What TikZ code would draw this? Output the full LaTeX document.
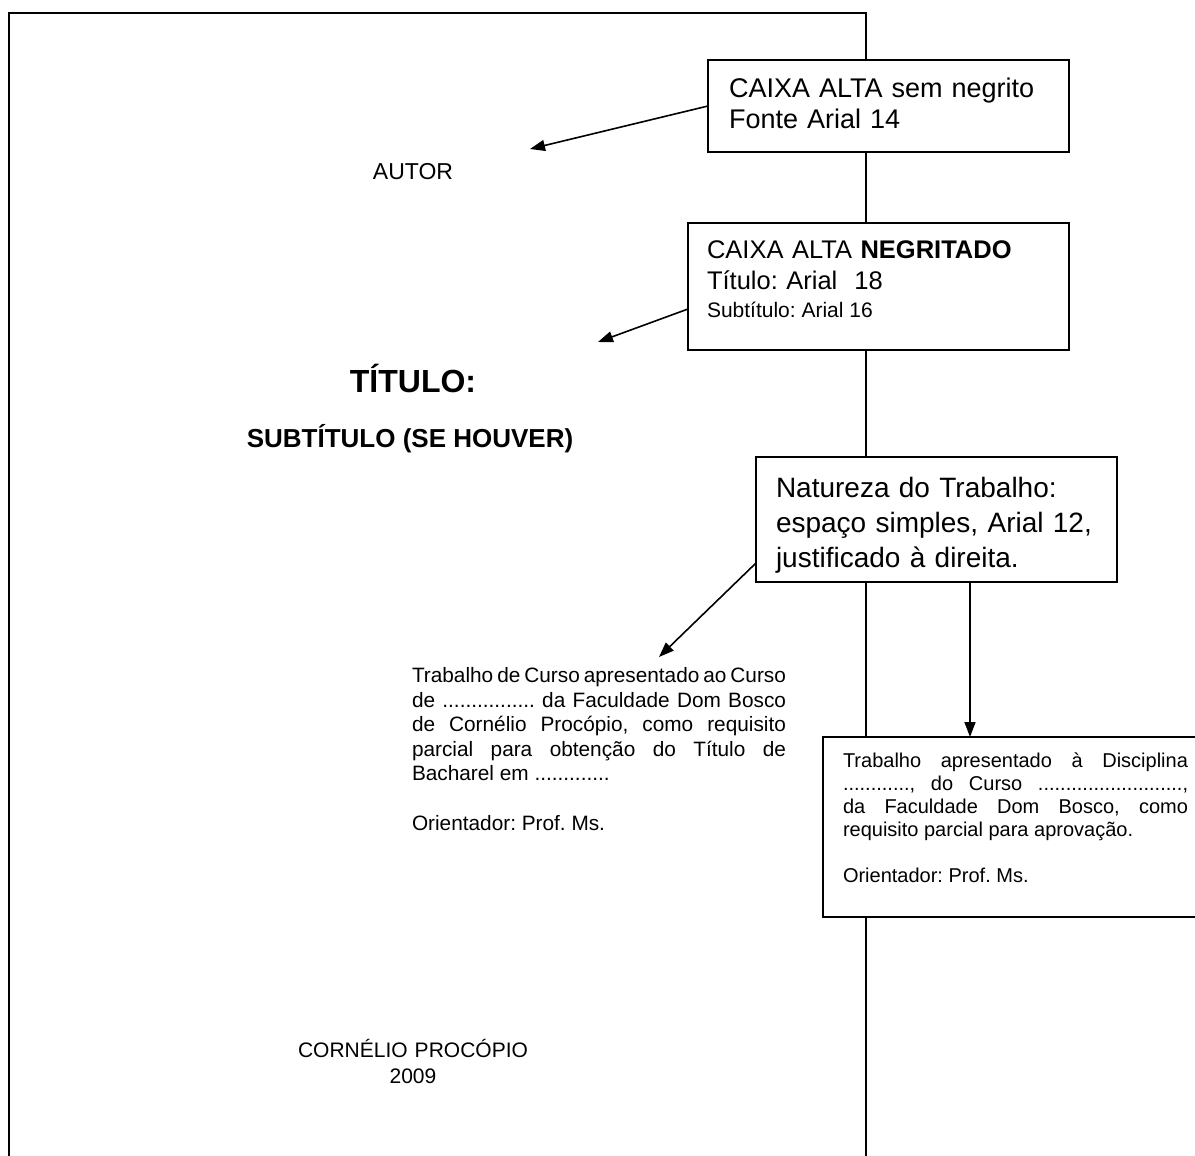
\documentclass[tikz,border=0pt]{standalone}
\usepackage{fontspec}
\setmainfont{Liberation Sans}
\usetikzlibrary{arrows.meta}
\tolerance=9999
\begin{document}
\frenchspacing
\begin{tikzpicture}[x=1pt,y=-1pt,
  frame/.style={line width=1.6pt},
  box/.style={draw, line width=1.6pt, fill=white, inner sep=0pt, outer sep=0pt, anchor=north west},
  arr/.style={line width=1.6pt, -{Triangle[length=15pt,width=11pt]}},
  txt/.style={inner sep=0pt, outer sep=0pt},
]
\useasboundingbox (0,0) rectangle (1195,1156);
\clip (0,0) rectangle (1195,1156);
% page frame
\draw[frame] (9,1170) -- (9,13) -- (866,13) -- (866,1170);
% boxes
\node[box, minimum width=361pt, minimum height=92pt] (b1) at (708,60) {};
\node[box, minimum width=381pt, minimum height=127pt] (b2) at (688,223) {};
\node[box, minimum width=361pt, minimum height=125pt] (b3) at (756,457) {};
\node[box, minimum width=420pt, minimum height=180pt] (b4) at (823,737) {};
% box texts
\node[txt, anchor=base west, text width=340pt, align=left, font=\fontsize{27}{31.5}\selectfont] (t1) at (729,97) {CAIXA ALTA sem negrito\\Fonte Arial 14};
\node[txt, anchor=base west, text width=360pt, align=left, font=\fontsize{25.5}{31}\selectfont] (t2) at (707,258) {CAIXA ALTA \textbf{NEGRITADO}\\Título: Arial\ \ 18};
\node[txt, anchor=base west, font=\fontsize{21}{25}\selectfont] (t2b) at (707,317) {Subtítulo: Arial 16};
\node[txt, anchor=base west, text width=340pt, align=left, font=\fontsize{28}{35}\selectfont] (t3) at (776,497) {Natureza do Trabalho:\\espaço simples, Arial 12,\\justificado à direita.};
\node[txt, anchor=base west, text width=345pt, align=justify, font=\fontsize{20}{23}\selectfont] (t4) at (843,767) {Trabalho apresentado à Disciplina\linebreak ............, do Curso ..........................,\linebreak da Faculdade Dom Bosco, como\linebreak requisito parcial para aprovação.\par\vspace{\baselineskip}Orientador: Prof. Ms.};
% page texts
\node[txt, font=\fontsize{23}{28}\selectfont] (autor) at (413,172) {AUTOR};
\node[txt, anchor=base, font=\bfseries\fontsize{32}{38}\selectfont] (titulo) at (413,392) {TÍTULO:};
\node[txt, anchor=base, font=\bfseries\fontsize{26}{31}\selectfont] (subtitulo) at (410,447) {SUBTÍTULO (SE HOUVER)};
\node[txt, anchor=base west, text width=374pt, align=justify, font=\fontsize{20.8}{24.6}\selectfont] (t5) at (412,682.5) {Trabalho de Curso apresentado ao Curso\linebreak de ................ da Faculdade Dom Bosco\linebreak de Cornélio Procópio, como requisito\linebreak parcial para obtenção do Título de\linebreak Bacharel em .............\par\vspace{\baselineskip}Orientador: Prof. Ms.};
\node[txt, anchor=base, text width=300pt, align=center, font=\fontsize{21}{26}\selectfont] (cidade) at (413,1057) {CORNÉLIO PROCÓPIO\\2009};
% arrows
\coordinate (p1) at (530,149);
\coordinate (p2) at (598,342);
\coordinate (p3) at (659,657);
\draw[arr] (b1.west) -- (p1);
\draw[arr] ([yshift=-86pt]b2.north west) -- (p2);
\draw[arr] ([yshift=19pt]b3.south west) -- (p3);
\draw[arr] (b3.south -| 970,0) -- (b4.north -| 970,0);
\end{tikzpicture}
\end{document}
